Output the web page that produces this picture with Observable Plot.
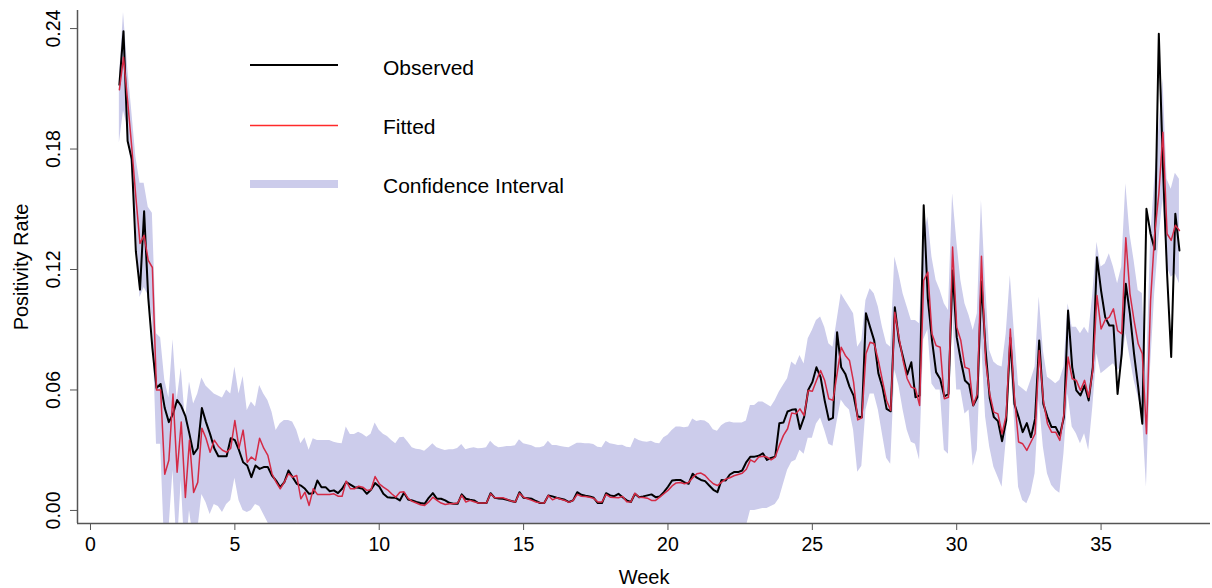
<!DOCTYPE html>
<html><head><meta charset="utf-8">
<script src="https://cdn.jsdelivr.net/npm/d3@7"></script>
<script src="https://cdn.jsdelivr.net/npm/@observablehq/plot@0.6"></script>
<style>body{margin:0;background:#fff;} #chart svg{display:block}</style>
</head><body><div id="chart"></div>
<script>
// Daily series starting at week 1
const startWeek = 1;
const daysPerWeek = 7;

const observed = [
0.212,0.2387,0.184,0.175,0.129,0.110,0.149,0.106,0.081,0.061,
0.063,0.051,0.044,0.048,0.055,0.052,0.047,0.038,0.028,0.031,
0.051,0.044,0.038,0.031,0.027,0.027,0.027,0.036,0.035,0.030,
0.024,0.0224,0.0166,0.0224,0.0207,0.0216,0.0216,0.0174,0.0149,0.0116,
0.0141,0.0199,0.0166,0.0133,0.0124,0.0108,0.0083,0.0086,0.0149,0.0116,
0.0116,0.0096,0.0100,0.0086,0.0108,0.0141,0.0129,0.0116,0.0113,0.0108,
0.0083,0.0103,0.0136,0.0119,0.0083,0.0066,0.0063,0.0063,0.0050,0.0088,
0.0055,0.0050,0.0042,0.0037,0.0033,0.0063,0.0086,0.0058,0.0058,0.0050,
0.0038,0.0033,0.0033,0.0080,0.0058,0.0053,0.0050,0.0037,0.0037,0.0037,
0.0086,0.0063,0.0060,0.0058,0.0053,0.0047,0.0042,0.0091,0.0063,0.0061,
0.0058,0.0047,0.0037,0.0037,0.0075,0.0070,0.0063,0.0058,0.0053,0.0042,
0.0050,0.0091,0.0078,0.0073,0.0070,0.0063,0.0037,0.0037,0.0086,0.0075,
0.0071,0.0083,0.0066,0.0050,0.0042,0.0083,0.0066,0.0070,0.0075,0.0080,
0.0066,0.0070,0.0091,0.0118,0.0149,0.0152,0.0152,0.0140,0.0133,0.0183,
0.0163,0.0152,0.0146,0.0124,0.0103,0.0091,0.0152,0.0149,0.0179,0.0191,
0.0191,0.0199,0.0241,0.0268,0.0268,0.0272,0.0285,0.0252,0.0262,0.0268,
0.0434,0.0438,0.0493,0.0501,0.0504,0.0406,0.0464,0.0600,0.0639,0.0713,
0.0664,0.0547,0.0451,0.0461,0.0888,0.0713,0.0680,0.0617,0.0572,0.0468,
0.0464,0.0982,0.0913,0.0846,0.0684,0.0614,0.0506,0.0494,0.1012,0.0846,
0.0763,0.0677,0.0738,0.0564,0.0572,0.1520,0.1055,0.0850,0.0689,0.0655,
0.0568,0.0580,0.1195,0.0863,0.0747,0.0647,0.0627,0.0523,0.0564,0.1140,
0.0800,0.0560,0.0465,0.0445,0.0345,0.0448,0.0860,0.0531,0.0465,0.0390,
0.0435,0.0365,0.0456,0.0847,0.0531,0.0465,0.0415,0.0415,0.0374,0.0465,
0.0996,0.0714,0.0598,0.0573,0.0623,0.0548,0.0714,0.1261,0.1095,0.0963,
0.0921,0.0921,0.0580,0.0780,0.1129,0.0979,0.0780,0.0614,0.0432,0.1502,
0.1378,0.1300,0.2374,0.1710,0.1180,0.0764,0.1478,0.1295
];

const fitted = [
0.2095,0.2257,0.204,0.181,0.156,0.133,0.137,0.1245,0.121,0.060,
0.060,0.018,0.025,0.058,0.019,0.044,0.0065,0.035,0.009,0.014,
0.041,0.036,0.029,0.035,0.032,0.030,0.029,0.031,0.0448,0.031,
0.040,0.024,0.0266,0.025,0.036,0.031,0.0274,0.0183,0.0141,0.0108,
0.0141,0.0183,0.0166,0.0174,0.0058,0.0091,0.0025,0.0108,0.0080,0.0080,
0.0080,0.0080,0.0083,0.0071,0.0071,0.0146,0.0108,0.0108,0.0121,0.0116,
0.0100,0.0103,0.0169,0.0133,0.0116,0.0103,0.0083,0.0066,0.0091,0.0093,
0.0060,0.0045,0.0037,0.0028,0.0025,0.0042,0.0066,0.0050,0.0037,0.0030,
0.0033,0.0033,0.0037,0.0075,0.0042,0.0050,0.0043,0.0037,0.0037,0.0037,
0.0083,0.0063,0.0063,0.0063,0.0055,0.0047,0.0042,0.0086,0.0066,0.0058,
0.0050,0.0042,0.0038,0.0037,0.0075,0.0053,0.0063,0.0056,0.0050,0.0040,
0.0050,0.0080,0.0071,0.0070,0.0066,0.0060,0.0042,0.0042,0.0080,0.0066,
0.0065,0.0063,0.0070,0.0043,0.0042,0.0086,0.0066,0.0065,0.0061,0.0050,
0.0050,0.0066,0.0083,0.0100,0.0122,0.0137,0.0139,0.0133,0.0139,0.0163,
0.0183,0.0186,0.0174,0.0152,0.0133,0.0124,0.0141,0.0156,0.0163,0.0173,
0.0179,0.0185,0.0205,0.0252,0.0241,0.0266,0.0270,0.0266,0.0252,0.0266,
0.0324,0.0374,0.0407,0.0485,0.0481,0.0506,0.0473,0.0597,0.0594,0.0647,
0.0697,0.0647,0.0556,0.0548,0.0680,0.0813,0.0772,0.0747,0.0639,0.0451,
0.0461,0.0780,0.0838,0.0830,0.0747,0.0647,0.0548,0.0498,0.0987,0.0863,
0.0747,0.0656,0.0614,0.0606,0.0523,0.1146,0.1187,0.0880,0.0821,0.0813,
0.0556,0.0564,0.1312,0.0913,0.0846,0.0713,0.0705,0.0523,0.0581,0.1266,
0.0747,0.0581,0.0490,0.0481,0.0382,0.0473,0.0904,0.0564,0.0341,0.0332,
0.0299,0.0341,0.0382,0.0797,0.0548,0.0432,0.0390,0.0390,0.0349,0.0481,
0.0764,0.0656,0.0648,0.0598,0.0648,0.0564,0.0697,0.1071,0.0904,0.0949,
0.0963,0.1004,0.0896,0.0880,0.1358,0.1080,0.0946,0.0830,0.0780,0.0382,
0.1046,0.1378,0.1577,0.1884,0.1378,0.1345,0.1420,0.1394
];

const lower = [
0.183,0.199,0.191,0.169,0.144,0.106,0.111,0.107,0.096,0.033,
0.033,-0.02,-0.01,0.02,-0.02,0.015,-0.025,0.0,-0.015,-0.01,
0.008,0.004,-0.002,0.003,0.002,-0.001,0.003,0.005,0.016,0.005,
0.0,-0.001,0.0,0.003,0.002,-0.002,-0.006,-0.012,-0.011,-0.02,
-0.016,-0.008,-0.011,-0.006,-0.02,-0.018,-0.025,-0.014,-0.019,-0.019,
-0.019,-0.019,-0.017,-0.019,-0.019,-0.012,-0.016,-0.016,-0.015,-0.015,
-0.017,-0.018,-0.01,-0.013,-0.015,-0.016,-0.018,-0.02,-0.018,-0.018,
-0.022,-0.022,-0.023,-0.024,-0.024,-0.023,-0.02,-0.021,-0.023,-0.024,
-0.024,-0.024,-0.023,-0.018,-0.022,-0.021,-0.023,-0.023,-0.023,-0.024,
-0.018,-0.02,-0.019,-0.019,-0.021,-0.022,-0.024,-0.018,-0.02,-0.021,
-0.022,-0.023,-0.024,-0.025,-0.02,-0.022,-0.02,-0.021,-0.022,-0.023,
-0.022,-0.018,-0.019,-0.019,-0.02,-0.021,-0.023,-0.023,-0.019,-0.02,
-0.02,-0.02,-0.019,-0.023,-0.023,-0.019,-0.022,-0.021,-0.022,-0.024,
-0.024,-0.02,-0.02,-0.017,-0.015,-0.014,-0.014,-0.015,-0.014,-0.013,
-0.008,-0.008,-0.01,-0.013,-0.014,-0.015,-0.014,-0.012,-0.011,-0.009,
-0.008,-0.007,-0.008,0.0,0.0,0.0005,0.001,0.001,0.002,0.003,
0.006,0.013,0.02,0.024,0.025,0.03,0.028,0.036,0.036,0.043,
0.046,0.04,0.033,0.032,0.044,0.055,0.052,0.05,0.04,0.019,
0.022,0.05,0.058,0.058,0.05,0.038,0.026,0.023,0.07,0.062,
0.05,0.04,0.034,0.033,0.025,0.085,0.09,0.063,0.06,0.06,
0.03,0.028,0.1,0.06,0.06,0.048,0.05,0.022,0.03,0.085,
0.0465,0.0316,0.0216,0.0166,0.0116,0.0349,0.0747,0.0448,0.0116,0.005,
0.0033,0.0083,0.0183,0.0548,0.0316,0.0183,0.0125,0.01,0.0086,0.0282,
0.058,0.0415,0.0382,0.0332,0.0382,0.0299,0.0515,0.078,0.0681,0.0697,
0.0714,0.0731,0.0697,0.0714,0.088,0.0764,0.0648,0.0564,0.0481,0.0116,
0.0714,0.1079,0.1345,0.155,0.1212,0.1162,0.1179,0.1129
];

const upper = [
0.215,0.248,0.221,0.199,0.176,0.163,0.163,0.151,0.148,0.088,
0.086,0.065,0.056,0.085,0.055,0.071,0.045,0.064,0.053,0.058,
0.066,0.062,0.060,0.058,0.057,0.056,0.060,0.058,0.0714,0.058,
0.0667,0.0498,0.054,0.0515,0.0622,0.058,0.0548,0.049,0.0398,0.0432,
0.0448,0.0448,0.044,0.040,0.0332,0.0362,0.030,0.0357,0.0349,0.0349,
0.0349,0.0349,0.034,0.0335,0.0332,0.0415,0.0378,0.0378,0.039,0.038,
0.0365,0.038,0.0435,0.040,0.038,0.0368,0.0349,0.0332,0.0362,0.0365,
0.034,0.0312,0.0305,0.0302,0.0295,0.0312,0.0332,0.0312,0.0305,0.0299,
0.0302,0.0302,0.0309,0.0329,0.0302,0.0309,0.0312,0.0307,0.0309,0.0312,
0.0345,0.0324,0.0312,0.0315,0.0319,0.0319,0.0322,0.0352,0.0332,0.0327,
0.0322,0.0312,0.0312,0.0319,0.0345,0.0324,0.0324,0.0319,0.0315,0.0312,
0.0324,0.0335,0.0335,0.0332,0.0332,0.0329,0.0315,0.0312,0.0345,0.0332,
0.0329,0.0324,0.0325,0.0315,0.0312,0.0360,0.0349,0.0342,0.0340,0.0345,
0.0335,0.0332,0.0362,0.0374,0.0398,0.0415,0.0415,0.0412,0.0415,0.0456,
0.0443,0.0448,0.0445,0.0432,0.0402,0.0395,0.0422,0.0435,0.0440,0.0435,
0.0435,0.0435,0.0445,0.0523,0.0523,0.0540,0.0540,0.0528,0.0515,0.0548,
0.0590,0.0623,0.0656,0.0739,0.0722,0.0772,0.0730,0.0855,0.0896,0.0946,
0.0963,0.0913,0.0830,0.0813,0.0946,0.1079,0.1046,0.1013,0.0980,0.0813,
0.0846,0.1046,0.1104,0.1079,0.1013,0.0913,0.0830,0.0813,0.1262,0.1179,
0.1079,0.1013,0.0946,0.0946,0.0930,0.1361,0.1461,0.1262,0.1146,0.1096,
0.1030,0.0996,0.1577,0.1345,0.1146,0.1030,0.0971,0.0896,0.0980,0.1544,
0.1120,0.0797,0.0739,0.0722,0.0714,0.0880,0.1170,0.0880,0.0622,0.0606,
0.0589,0.0648,0.0714,0.1063,0.0797,0.0664,0.0648,0.0631,0.0648,0.0714,
0.1030,0.0913,0.0913,0.0880,0.0913,0.0880,0.1079,0.1336,0.1212,0.1228,
0.1278,0.1212,0.1129,0.1212,0.1627,0.1378,0.1245,0.1096,0.1080,0.0650,
0.1350,0.1650,0.1900,0.2150,0.1650,0.1600,0.1680,0.1650
];

const xTicks = [0, 5, 10, 15, 20, 25, 30, 35];
const yTicks = [0.00, 0.06, 0.12, 0.18, 0.24];
const legendLabels = ["Observed", "Fitted", "Confidence Interval"];

const rows = observed.map((v, i) => ({
  week: startWeek + i / daysPerWeek,
  observed: v, fitted: fitted[i], lower: lower[i], upper: upper[i]
}));

const font = "'Liberation Sans', Arial, Helvetica, sans-serif";
const bandColor = "#cccceb";
const redColor = "#d42a45";
const axisColor = "#555";
const xDomain = [-0.45, 38.79];
const yDomain = [-0.0065, 0.249];

const chart = Plot.plot({
  width: 1212, height: 588,
  marginLeft: 77, marginRight: 2, marginTop: 10, marginBottom: 65,
  style: {fontFamily: font, fontSize: "19px", color: "#000", background: "#fff", overflow: "visible"},
  x: {domain: xDomain},
  y: {domain: yDomain},
  marks: [
    Plot.areaY(rows, {x: "week", y1: "lower", y2: "upper", fill: bandColor, clip: true}),
    Plot.lineY(rows, {x: "week", y: "observed", stroke: "#000", strokeWidth: 2, clip: true}),
    Plot.lineY(rows, {x: "week", y: "fitted", stroke: redColor, strokeWidth: 1.5, clip: true}),
    Plot.ruleX([xDomain[0]], {stroke: axisColor, strokeWidth: 1.5}),
    Plot.ruleY([yDomain[0]], {stroke: axisColor, strokeWidth: 1.5}),
    Plot.axisX({ticks: xTicks, tickSize: 7, tickPadding: 7, fontSize: 19.5, stroke: axisColor, label: null, tickFormat: d => String(d)}),
    Plot.axisY({ticks: yTicks, tickSize: 7, tickFormat: () => "", label: null, stroke: axisColor}),
    Plot.text(yTicks, {x: () => xDomain[0], y: d => d, text: d => d3.format(".2f")(d), rotate: -90,
      textAnchor: "middle", lineAnchor: "bottom", dx: -18, fontSize: 19.5, fill: "#000"}),
    Plot.text(["Positivity Rate"], {frameAnchor: "left", rotate: -90, dx: -50, textAnchor: "middle", lineAnchor: "bottom", fontSize: 20, fill: "#000"}),
    Plot.text(["Week"], {frameAnchor: "bottom", dy: 60, textAnchor: "middle", lineAnchor: "bottom", fontSize: 20, fill: "#000"})
  ]
});

document.getElementById("chart").appendChild(chart);

// Legend (inside the plot area, top-left)
const svg = d3.select(chart);
const lg = svg.append("g").attr("font-family", font).attr("font-size", 21)
  .attr("fill", "#000").attr("text-anchor", "start");
lg.append("line").attr("x1", 250).attr("x2", 338).attr("y1", 65).attr("y2", 65)
  .attr("stroke", "#000").attr("stroke-width", 2);
lg.append("line").attr("x1", 250).attr("x2", 338).attr("y1", 125.5).attr("y2", 125.5)
  .attr("stroke", "#ff2a2a").attr("stroke-width", 1.5);
lg.append("rect").attr("x", 250).attr("y", 180).attr("width", 88).attr("height", 8).attr("fill", bandColor);
[75, 134, 193].forEach((yy, k) => {
  lg.append("text").attr("x", 383).attr("y", yy).attr("text-anchor", "start").text(legendLabels[k]);
});
</script>
</body></html>
